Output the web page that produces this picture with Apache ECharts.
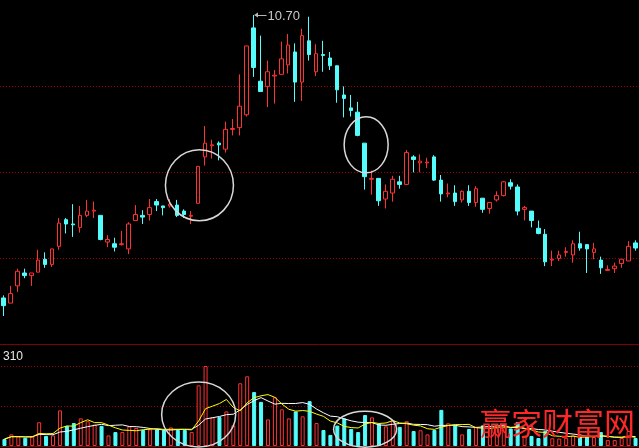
<!DOCTYPE html>
<html><head><meta charset="utf-8">
<script src="https://cdn.jsdelivr.net/npm/echarts@6/dist/echarts.min.js"></script>
<style>html,body{margin:0;padding:0;background:#000;overflow:hidden}#c{width:639px;height:448px;}</style>
</head><body><div id="c"></div>
<script>
const opens  = [7.41,7.35,7.55,7.70,7.67,7.71,7.86,7.80,8.01,8.32,8.27,8.23,8.37,8.42,8.37,8.06,8.04,8.03,7.98,8.31,8.37,8.38,8.53,8.48,8.48,8.49,8.42,8.36,8.51,9.05,9.18,9.21,9.14,9.37,9.39,9.54,10.55,9.93,9.87,9.99,10.01,10.12,10.27,9.92,10.40,10.04,10.24,10.20,10.11,9.77,9.62,9.57,9.21,8.79,8.80,8.56,8.63,8.76,8.73,9.05,8.98,8.98,9.05,8.78,8.62,8.63,8.55,8.65,8.52,8.57,8.45,8.55,8.60,8.75,8.70,8.44,8.42,8.22,8.15,7.85,7.87,7.94,7.91,8.04,8.03,7.94,7.85,7.73,7.75,7.81,7.84,8.05];
const closes = [7.32,7.46,7.72,7.67,7.70,7.85,7.80,7.98,8.28,8.27,8.26,8.37,8.42,8.43,8.09,8.09,8.00,8.04,8.27,8.38,8.35,8.46,8.49,8.46,8.50,8.37,8.38,8.37,8.94,9.21,9.19,9.19,9.37,9.38,9.64,10.34,10.09,9.81,10.04,10.00,10.19,10.35,9.92,10.46,10.24,10.25,10.23,10.11,9.83,9.73,9.59,9.30,8.82,8.80,8.54,8.65,8.79,8.73,9.10,9.02,9.00,8.99,8.78,8.62,8.63,8.53,8.65,8.52,8.68,8.44,8.52,8.60,8.76,8.71,8.42,8.46,8.31,8.16,7.83,7.86,7.91,7.95,8.04,7.99,7.98,7.98,7.76,7.74,7.78,7.86,8.01,7.99];
const lows   = [7.20,7.35,7.48,7.64,7.55,7.71,7.76,7.77,7.97,8.16,8.12,8.17,8.35,8.34,8.08,8.00,7.95,8.02,7.92,8.31,8.27,8.31,8.42,8.37,8.46,8.35,8.34,8.27,8.51,8.95,9.03,9.01,9.10,9.30,9.30,9.52,9.98,9.81,9.63,9.67,10.01,10.02,9.69,9.70,10.17,9.99,10.04,10.06,9.68,9.51,9.52,9.29,8.67,8.61,8.48,8.45,8.53,8.68,8.73,8.87,8.87,8.92,8.77,8.53,8.58,8.48,8.52,8.48,8.47,8.40,8.39,8.53,8.59,8.67,8.37,8.31,8.23,8.15,7.78,7.78,7.84,7.89,7.82,7.96,7.70,7.86,7.69,7.73,7.70,7.76,7.84,7.96];
const highs  = [7.44,7.55,7.75,7.75,7.70,7.97,7.94,7.98,8.34,8.34,8.50,8.48,8.55,8.53,8.37,8.14,8.11,8.19,8.29,8.49,8.43,8.56,8.56,8.48,8.56,8.55,8.44,8.42,8.94,9.41,9.25,9.23,9.46,9.49,10.01,10.34,10.70,10.46,10.17,10.06,10.39,10.48,10.37,10.54,10.68,10.36,10.40,10.27,10.11,9.87,9.77,9.69,9.21,8.89,8.80,8.73,8.83,8.83,9.13,9.07,9.08,9.04,9.07,8.84,8.74,8.72,8.66,8.72,8.71,8.57,8.52,8.65,8.77,8.79,8.73,8.48,8.42,8.31,8.21,7.96,7.96,8.00,8.08,8.18,8.03,8.05,7.89,7.79,7.82,7.86,8.07,8.08];
const volumes = [27,45,37,32,37,92,39,41,138,78,89,107,96,83,78,41,54,54,76,70,62,64,64,62,72,62,62,54,235,310,111,112,134,80,243,270,209,171,103,189,142,107,134,115,174,89,62,43,79,107,66,54,120,111,85,76,100,74,96,58,61,45,62,140,88,80,45,66,74,80,72,70,72,68,93,40,39,31,59,30,29,32,41,36,37,35,54,23,23,31,58,31];
const volumeTicks = [0, 155, 310];
const categories = opens.map((_, i) => String(i + 1));
// annotation rings anchored to data (index, value)
const priceRings  = [{at: 28, value: 8.72}, {at: 52, value: 9.19}];
const volumeRings = [{at: 28, value: 122}, {at: 52, value: 65}];
const watermark = '赢家财富网';

const RED = '#ff3232', CYAN = '#54fcfc', GRID = '#a00000', SEP = '#800000';

function movingAvg(n) {
  return volumes.map((_, i) => {
    const w = volumes.slice(Math.max(0, i - n + 1), i + 1);
    return +(w.reduce((a, b) => a + b, 0) / w.length).toFixed(2);
  });
}

const chart = echarts.init(document.getElementById('c'), null, {renderer: 'canvas'});
const dotted = {color: GRID, width: 1, type: [1, 2]};
const option = {
  backgroundColor: '#000',
  animation: false,
  grid: [
    {left: 0, top: 0, width: 644, height: 344},
    {left: 0, top: 366, width: 644, height: 80}
  ],
  xAxis: [
    {type: 'category', gridIndex: 0, data: categories, boundaryGap: true,
     axisLine: {show: true, lineStyle: {color: SEP, width: 1}}, axisTick: {show: false}, axisLabel: {show: false}, splitLine: {show: false}},
    {type: 'category', gridIndex: 1, data: categories, boundaryGap: true,
     axisLine: {show: true, lineStyle: {color: SEP, width: 1}}, axisTick: {show: false}, axisLabel: {show: false}, splitLine: {show: false}}
  ],
  yAxis: [
    {type: 'value', gridIndex: 0, min: 6.8744, max: 10.8744, show: false},
    {type: 'value', gridIndex: 0, min: 0, max: 4, interval: 1,
     axisLine: {show: false}, axisTick: {show: false}, axisLabel: {show: false},
     splitLine: {show: true, showMinLine: false, showMaxLine: false, lineStyle: dotted}},
    {type: 'value', gridIndex: 1, min: volumeTicks[0], max: volumeTicks[2], interval: volumeTicks[1],
     axisLine: {show: false}, axisTick: {show: false},
     axisLabel: {show: true, inside: true, showMaxLabel: true, color: '#e8e8e8', fontSize: 12, fontFamily: 'Liberation Sans, Arial',
       verticalAlign: 'bottom', align: 'left', margin: 2, padding: [0, 0, 3, 0],
       formatter: v => v === volumeTicks[2] ? String(v) : ''},
     splitLine: {show: true, showMinLine: false, lineStyle: dotted}}
  ],
  series: [
    {type: 'candlestick', xAxisIndex: 0, yAxisIndex: 0, barWidth: 4, barMinWidth: 4,
     data: categories.map((_, i) => [opens[i], closes[i], lows[i], highs[i]]),
     itemStyle: {color: '#000', color0: CYAN, borderColor: RED, borderColor0: CYAN, borderWidth: 1}},
    {type: 'bar', xAxisIndex: 1, yAxisIndex: 2, barWidth: 4, z: 2,
     data: volumes.map((v, i) => ({value: v, itemStyle: closes[i] >= opens[i]
        ? {color: '#000', borderColor: RED, borderWidth: 1}
        : {color: CYAN, borderColor: CYAN, borderWidth: 1}}))},
    {type: 'line', xAxisIndex: 1, yAxisIndex: 2, data: movingAvg(10), symbol: 'none', z: 3,
     lineStyle: {color: '#ffffff', width: 1}},
    {type: 'line', xAxisIndex: 1, yAxisIndex: 2, data: movingAvg(5), symbol: 'none', z: 4,
     lineStyle: {color: '#ffff00', width: 1}}
  ]
};
chart.setOption(option);

// annotations placed through the axes
const hiIdx = highs.indexOf(Math.max(...highs));
const hp = chart.convertToPixel({xAxisIndex: 0, yAxisIndex: 0}, [hiIdx, highs[hiIdx]]);
const ringSizes = [[34, 35.5], [22, 28], [37, 32.5], [31.5, 18]];
const rings = [];
priceRings.forEach((r, j) => {
  const p = chart.convertToPixel({xAxisIndex: 0, yAxisIndex: 0}, [r.at, r.value]);
  rings.push({cx: p[0] + 1.5, cy: p[1], rx: ringSizes[j][0], ry: ringSizes[j][1]});
});
volumeRings.forEach((r, j) => {
  const p = chart.convertToPixel({xAxisIndex: 1, yAxisIndex: 2}, [r.at, r.value]);
  rings.push({cx: p[0], cy: p[1], rx: ringSizes[j + 2][0], ry: ringSizes[j + 2][1]});
});
const graphics = rings.map(s => ({type: 'ellipse', z: 100, shape: s, style: {fill: 'none', stroke: '#d8d8d8', lineWidth: 1.5}}));
graphics.push(
  {type: 'polygon', z: 100, shape: {points: [[hp[0] + 0.5, hp[1]], [hp[0] + 4.5, hp[1] - 2.5], [hp[0] + 4.5, hp[1] + 2.5]]}, style: {fill: '#b8b8b8'}},
  {type: 'line', z: 100, shape: {x1: hp[0] + 4, y1: hp[1] + 0.5, x2: hp[0] + 13, y2: hp[1] + 0.5}, style: {stroke: '#b8b8b8', lineWidth: 1}},
  {type: 'text', z: 100, x: hp[0] + 14, y: hp[1] + 1, style: {text: highs[hiIdx].toFixed(2), fill: '#c8c8c8', font: '13px "Liberation Sans", Arial', verticalAlign: 'middle', align: 'left'}},
  {type: 'text', z: 120, right: 4, bottom: 9, style: {text: watermark, fill: '#ff2828', font: '31px "Noto Sans CJK SC"', letterSpacing: 1}}
);
chart.setOption({graphic: graphics});
</script>
</body></html>
